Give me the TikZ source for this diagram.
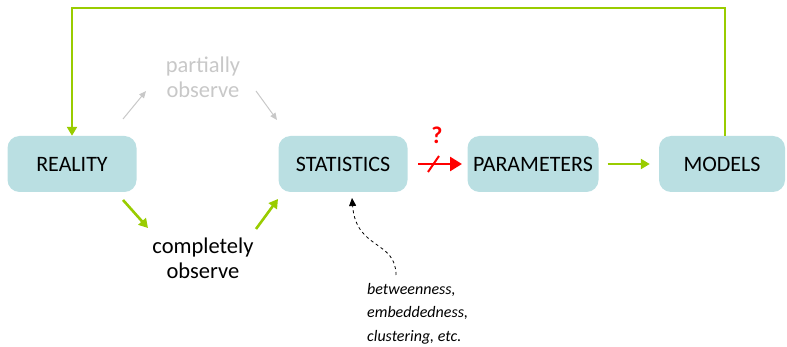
\documentclass[tikz,border=0pt]{standalone}
\usepackage{fontspec}
\setmainfont{Carlito}
\usetikzlibrary{arrows.meta}
\definecolor{boxfill}{HTML}{BADFE2}
\definecolor{lgreen}{HTML}{99CC00}
\definecolor{lgray}{HTML}{C8C8C8}
\begin{document}
\begin{tikzpicture}[x=1pt,y=-1pt,
  box/.style={fill=boxfill,rounded corners=12pt,minimum width=129pt,minimum height=56pt,inner sep=0pt,font=\fontsize{22}{24}\selectfont},
  garrow/.style={draw=lgreen,line width=2.6pt,-{Triangle[length=9pt,width=10pt]}},
  grayarrow/.style={draw=lgray,line width=1pt,-{Triangle[length=7pt,width=6pt]}},
  lbl/.style={align=center,font=\fontsize{22.5}{25}\selectfont,inner sep=0pt}]
\useasboundingbox (0,0) rectangle (787,347);
\node[box] (reality) at (72,164) {REALITY};
\node[box] (stats) at (343,164) {STATISTICS};
\node[box,minimum width=131pt] (params) at (533,164) {PARAMETERS};
\node[box,minimum width=126pt] (models) at (722,164) {MODELS};
% feedback loop
\coordinate (m1) at (725,8);
\coordinate (m2) at (72,8);
\draw[garrow] (models.north -| m1) -- (m1) -- (m2) -- (reality.north);
% partially observe
\node[lbl,text=lgray] (partial) at (203,77) {partially\\observe};
\coordinate (p1) at (123,119);
\coordinate (p2) at (146,91);
\coordinate (p3) at (256,91);
\coordinate (p4) at (277,120);
\draw[grayarrow] (p1) -- (p2);
\draw[grayarrow] (p3) -- (p4);
% completely observe
\node[lbl] (complete) at (203,258) {completely\\observe};
\coordinate (c1) at (123,200);
\coordinate (c2) at (148,228);
\coordinate (c3) at (256,229);
\coordinate (c4) at (278,199);
\draw[garrow] (c1) -- (c2);
\draw[garrow] (c3) -- (c4);
% red arrow
\coordinate (r1) at (418,164);
\coordinate (r2) at (462,164);
\draw[red,line width=2.6pt,-{Triangle[length=12pt,width=14pt]}] (r1) -- (r2);
\coordinate (s1) at (428,172);
\coordinate (s2) at (439,156);
\draw[red,line width=2pt] (s1) -- (s2);
\node[text=red,font=\fontsize{24}{26}\selectfont\bfseries] (q) at (437,135) {?};
% params -> models
\draw[garrow] ([xshift=9pt]params.east) -- ([xshift=-9pt]models.west);
% dashed annotation
\node[align=left,anchor=north west,inner sep=0pt,font=\fontsize{16}{23.5}\selectfont\itshape] (ann) at (367,283) {betweenness,\\embeddedness,\\clustering, etc.};
\coordinate (d0) at (396,275);
\coordinate (d1) at (352,198);
\draw[dashed,line width=0.8pt,-{Triangle[length=8pt,width=7pt]}] (d0) .. controls (396,240) and (356,250) .. (d1);
\end{tikzpicture}
\end{document}
